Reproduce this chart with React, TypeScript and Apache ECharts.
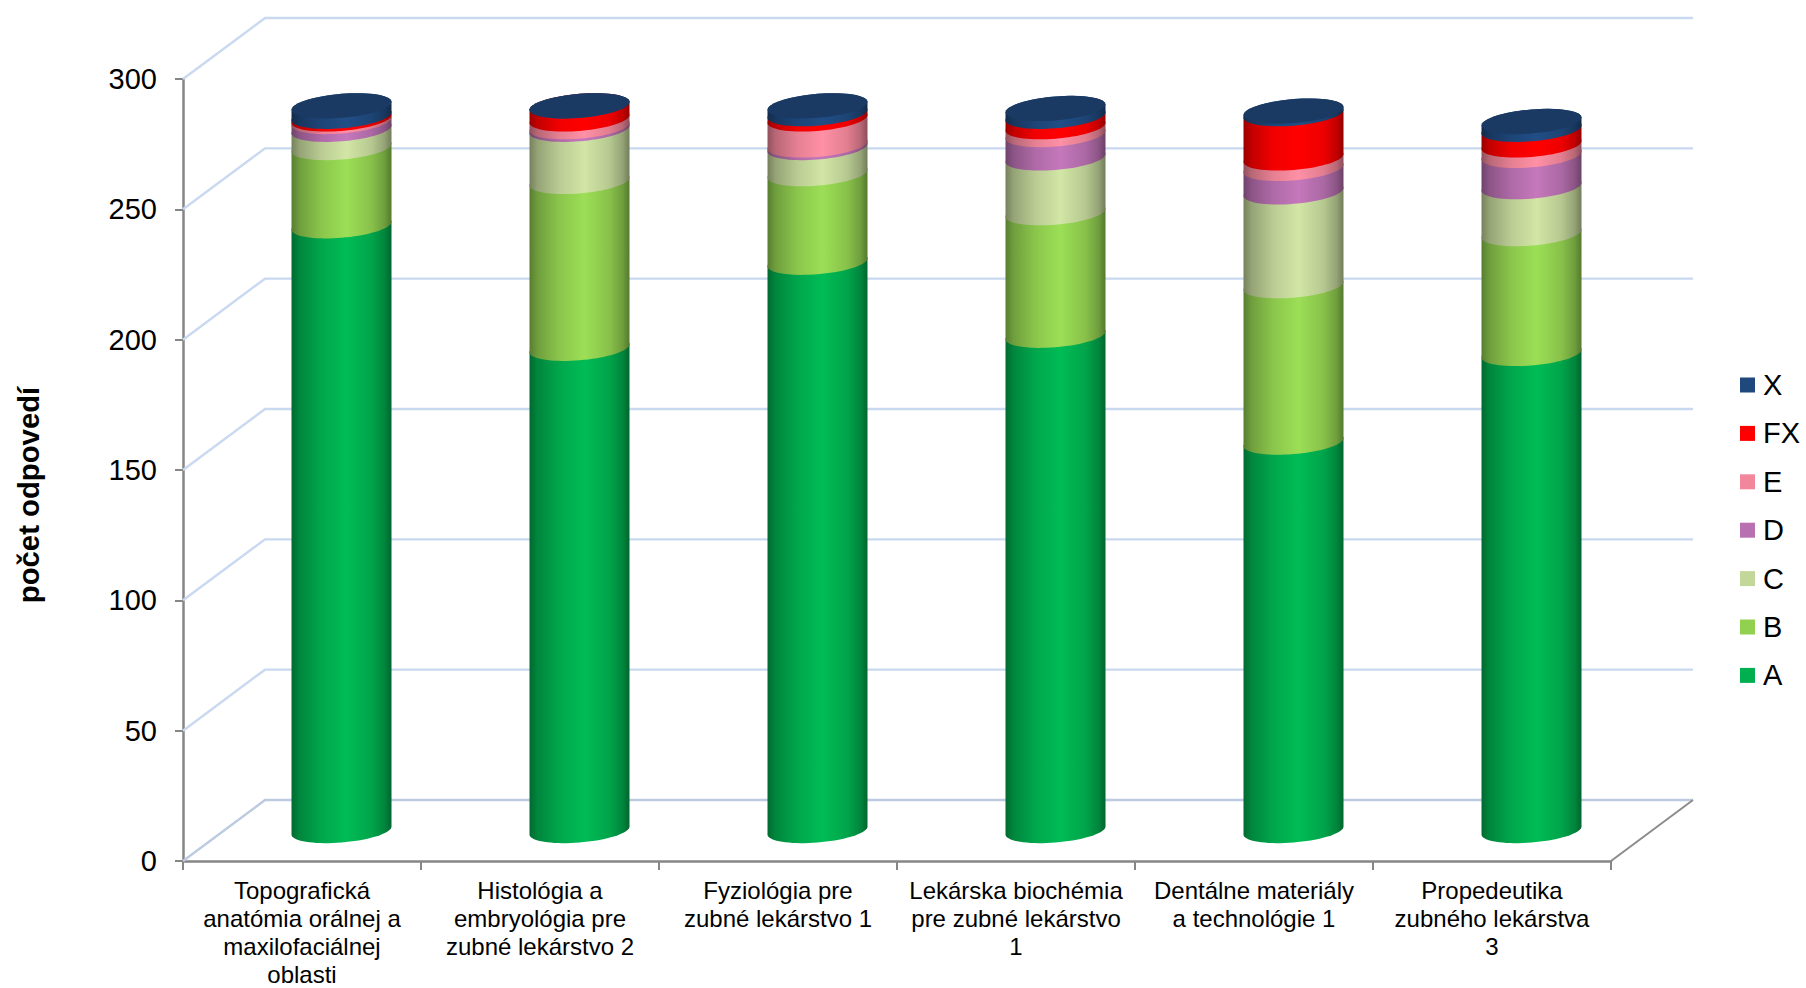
import React, { useEffect, useRef } from "react";
import * as echarts from "echarts";

const categories = [
  "Topografická\nanatómia orálnej a\nmaxilofaciálnej\noblasti",
  "Histológia a\nembryológia pre\nzubné lekárstvo 2",
  "Fyziológia pre\nzubné lekárstvo 1",
  "Lekárska biochémia\npre zubné lekárstvo\n1",
  "Dentálne materiály\na technológie 1",
  "Propedeutika\nzubného lekárstva\n3",
];
const seriesA = [232, 185, 218, 190, 149, 183];
const seriesB = [30, 64, 34, 47, 60, 46];
const seriesC = [7, 20, 10, 21, 36, 18];
const seriesD = [3, 1, 1, 9, 9, 12];
const seriesE = [1, 3, 10, 3, 4, 4];
const seriesFX = [1, 5, 2, 4, 17, 6];
const seriesX = [4, 0, 3, 3, 1, 3];
const legendOrder = ["X", "FX", "E", "D", "C", "B", "A"];
const yTicks = [0, 50, 100, 150, 200, 250, 300];

const stack = [
  { name: "A", values: seriesA, color: "#00b050" },
  { name: "B", values: seriesB, color: "#92d050" },
  { name: "C", values: seriesC, color: "#c4d79b" },
  { name: "D", values: seriesD, color: "#b870b0" },
  { name: "E", values: seriesE, color: "#f2879b" },
  { name: "FX", values: seriesFX, color: "#ff0000" },
  { name: "X", values: seriesX, color: "#1f497d" },
];

const W = 1806;
const H = 988;
const GRID = { left: 183, top: 79, width: 1428, height: 785 };
const DEPTH_X = 82;
const DEPTH_Y = 61;
const BAR_SHIFT_X = 39.5;
const RADIUS = 50;
const TILT = 4;
const MINOR = 12;
const FONT = "Arial, 'Liberation Sans', sans-serif";

function shade(hex: string, f: number) {
  const n = parseInt(hex.slice(1), 16);
  const ch = (v: number) => Math.max(0, Math.min(255, Math.round(v * f)));
  return `rgb(${ch((n >> 16) & 255)},${ch((n >> 8) & 255)},${ch(n & 255)})`;
}

function sideFill(color: string) {
  const stops: [number, number][] = [
    [0, 0.6], [0.08, 0.76], [0.3, 0.95], [0.55, 1.07], [0.8, 0.93], [0.93, 0.76], [1, 0.58],
  ];
  return new echarts.graphic.LinearGradient(0, 0, 1, 0,
    stops.map(([offset, f]) => ({ offset, color: shade(color, f) })));
}

function arc(cx: number, cy: number, from: number, to: number) {
  const out: number[][] = [];
  const steps = 36;
  for (let i = 0; i <= steps; i++) {
    const t = from + ((to - from) * i) / steps;
    const c = Math.cos(t);
    out.push([cx + RADIUS * c, cy - TILT * c + MINOR * Math.sin(t)]);
  }
  return out;
}

function cylinderItem(color: string, isTop: boolean) {
  return (_params: any, api: any) => {
    const cat = api.value(0);
    const lo = api.coord([cat, api.value(1)]);
    const hi = api.coord([cat, api.value(2)]);
    const cx = lo[0] + BAR_SHIFT_X;
    const loY = lo[1] - DEPTH_Y / 2;
    const hiY = hi[1] - DEPTH_Y / 2;
    const children: any[] = [
      {
        type: "polygon",
        shape: { points: [...arc(cx, loY, 0, Math.PI), ...arc(cx, hiY, Math.PI, 2 * Math.PI)] },
        style: { fill: sideFill(color) },
      },
    ];
    if (isTop) {
      children.push({
        type: "polygon",
        shape: { points: arc(cx, hiY, 0, 2 * Math.PI) },
        style: { fill: "#1a3a63" },
      });
    }
    return { type: "group", children };
  };
}

function wallItem(params: any, api: any) {
  const cs = params.coordSys;
  const p = api.coord([0, api.value(0)]);
  const y = p[1];
  const isFloor = api.value(0) === 0;
  const children: any[] = [
    {
      type: "polyline",
      shape: {
        points: [
          [cs.x, y],
          [cs.x + DEPTH_X, y - DEPTH_Y],
          [cs.x + cs.width + DEPTH_X, y - DEPTH_Y],
        ],
      },
      style: { fill: "none", stroke: isFloor ? "#bccbe0" : "#c9d9f0", lineWidth: 2.4 },
    },
  ];
  if (isFloor) {
    children.push({
      type: "line",
      shape: { x1: cs.x + cs.width, y1: y, x2: cs.x + cs.width + DEPTH_X, y2: y - DEPTH_Y },
      style: { stroke: "#8c8c8c", lineWidth: 2 },
    });
  }
  return { type: "group", children };
}

export default function App() {
  const ref = useRef<HTMLDivElement>(null);
  useEffect(() => {
    document.body.style.margin = "0";
    const chart = echarts.init(ref.current!, null, { renderer: "svg" });
    let running = categories.map(() => 0);
    const cylinders = stack.map((s, idx) => {
      const data = s.values.map((v, i) => [i, running[i], running[i] + v]);
      running = running.map((r, i) => r + s.values[i]);
      return {
        type: "custom" as const,
        name: s.name,
        silent: true,
        z: 3,
        itemStyle: { color: s.color },
        encode: { x: 0, y: [1, 2] },
        data,
        renderItem: cylinderItem(s.color, idx === stack.length - 1),
      };
    });
    chart.setOption({
      animation: false,
      backgroundColor: "#ffffff",
      textStyle: { fontFamily: FONT, color: "#000000" },
      legend: {
        data: legendOrder,
        orient: "vertical",
        left: 1735,
        top: 365.5,
        icon: "rect",
        itemWidth: 15,
        itemHeight: 15,
        itemGap: 19.4,
        selectedMode: false,
        textStyle: { fontFamily: FONT, fontSize: 29, color: "#000000", lineHeight: 28, padding: [0, 0, 0, 3] },
      },
      grid: { ...GRID, containLabel: false },
      xAxis: {
        type: "category",
        data: categories,
        boundaryGap: true,
        axisLine: { lineStyle: { color: "#868686", width: 2.5 } },
        axisTick: { show: true, length: 9, lineStyle: { color: "#868686", width: 2 } },
        axisLabel: {
          interval: 0,
          margin: 15,
          fontFamily: FONT,
          fontSize: 24,
          lineHeight: 28,
          color: "#000000",
          align: "center",
        },
      },
      yAxis: {
        type: "value",
        min: 0,
        max: 300,
        interval: 50,
        name: "počet odpovedí",
        nameLocation: "middle",
        nameRotate: 90,
        nameGap: 140,
        nameTextStyle: {
          fontFamily: FONT,
          fontSize: 29.3,
          fontWeight: "bold",
          color: "#000000",
          padding: [0, 50, 0, 0],
        },
        axisLine: { show: true, lineStyle: { color: "#868686", width: 2.5 } },
        axisTick: { show: true, length: 8, lineStyle: { color: "#868686", width: 2 } },
        axisLabel: { margin: 26, fontFamily: FONT, fontSize: 29, color: "#000000" },
        splitLine: { show: false },
      },
      series: [
        {
          type: "custom",
          name: "walls",
          silent: true,
          z: 1,
          encode: { y: 0 },
          data: yTicks.map((t) => [t]),
          renderItem: wallItem,
        },
        ...cylinders,
      ],
    });
    return () => chart.dispose();
  }, []);
  return <div ref={ref} style={{ width: W, height: H, background: "#fff" }} />;
}
